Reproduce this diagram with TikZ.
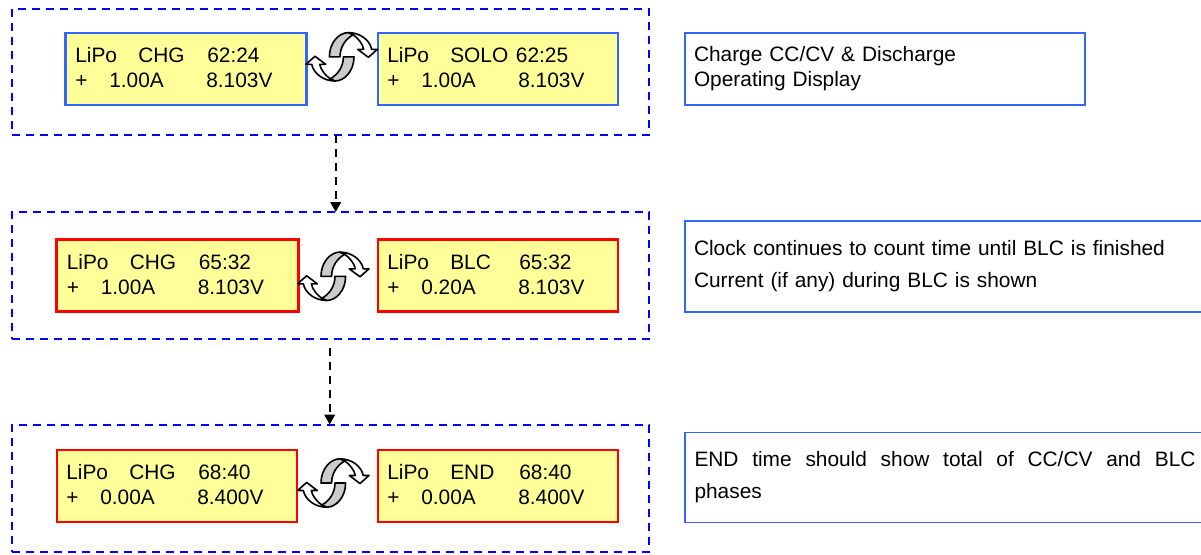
\documentclass[tikz,border=0pt]{standalone}
\usepackage{fontspec}
\setmainfont{Liberation Sans}
\usetikzlibrary{arrows.meta}

\definecolor{lcdyellow}{RGB}{255,255,153}
\definecolor{lcdblue}{RGB}{51,102,255}
\definecolor{framblue}{RGB}{0,0,255}

\newcommand{\lcdtext}[7][51.75pt]{\makebox[47.25pt][l]{#2}\makebox[#1][l]{#3}#4\\\makebox[25.5pt][l]{#5}\makebox[72.75pt][l]{#6}#7\rule[-2pt]{0pt}{0pt}}

\tikzset{
  framebox/.style={draw=framblue,line width=1.5pt,dash pattern={on 6pt off 4.5pt},inner sep=0pt,outer sep=0pt,anchor=north west,minimum width=477.75pt},
  lcdbox/.style={line width=1.6pt,fill=lcdyellow,inner ysep=0pt,inner xsep=7pt,outer sep=0pt,anchor=north west,minimum height=54pt,text width=166pt,align=left,font=\fontsize{15.65}{18.75}\selectfont},
  notebox/.style={draw=lcdblue,line width=1.25pt,inner ysep=0pt,inner xsep=6.75pt,outer sep=0pt,anchor=north west,font=\fontsize{15.65}{18.75}\selectfont},
  flowarrow/.style={line width=1.5pt,dash pattern={on 6pt off 4.5pt},-{Triangle[length=7.5pt,width=8pt]}},
  swaphalf/.pic={
    \draw [fill=black!20,line width=1.2pt,line join=round] (-12.3,0) .. controls (-12.3,-14) and (-3,-24.2) .. (6.7,-24.2) -- (11.5,-22) .. controls (4,-18) and (-1.7,-10) .. (-1.7,0) -- cycle ;
    \draw [fill=white,line width=1.2pt,line join=round] (6.7,-24.2) .. controls (18,-24.2) and (28,-17) .. (30,-7.5) -- (35.7,-7.5) -- (26.7,0.5) -- (16,-7.5) -- (22,-7.5) .. controls (21,-13) and (16,-19) .. (11.5,-22) -- cycle ;
  },
  swaparrows/.pic={
    \pic [yscale=-1] {swaphalf};
    \pic [rotate=180,yscale=-1] {swaphalf};
  }
}

\begin{document}
\begin{tikzpicture}[x=0.75pt,y=0.75pt,yscale=-1,xscale=1]
\useasboundingbox (0,0) rectangle (1201,554);

%Shape: Dashed frames
\node [framebox,minimum height=94.5pt] (frameA) at (12,9) {};
\node [framebox,minimum height=95.25pt] (frameB) at (12,212) {};
\node [framebox,minimum height=95.25pt] (frameC) at (12,424.5) {};

%Straight Lines
\draw [flowarrow] ([xshift=3.9pt]frameA.south) -- ([xshift=3.9pt]frameB.north);
\draw [flowarrow,shorten <=6.75pt] ([xshift=-0.6pt]frameB.south) -- ([xshift=-0.6pt]frameC.north);

%Shape: Display boxes
\node [lcdbox,draw=lcdblue,minimum width=180.75pt] (lcdChgA) at (65.5,33) {\lcdtext{LiPo}{CHG}{62:24}{+}{1.00A}{8.103V}};
\node [lcdbox,draw=lcdblue,minimum width=180pt] (lcdSolo) at (378,33) {\lcdtext[49.25pt]{LiPo}{SOLO}{62:25}{+}{1.00A}{8.103V}};
\node [lcdbox,draw=red,minimum width=181.5pt] (lcdChgB) at (56.5,239.5) {\lcdtext{LiPo}{CHG}{65:32}{+}{1.00A}{8.103V}};
\node [lcdbox,draw=red,minimum width=180pt] (lcdBlc) at (378,239.5) {\lcdtext{LiPo}{BLC}{65:32}{+}{0.20A}{8.103V}};
\node [lcdbox,draw=red,minimum width=180pt] (lcdChgC) at (57,450) {\lcdtext{LiPo}{CHG}{68:40}{+}{0.00A}{8.400V}};
\node [lcdbox,draw=red,minimum width=180pt] (lcdEnd) at (378,450) {\lcdtext{LiPo}{END}{68:40}{+}{0.00A}{8.400V}};

%Shape: Swap arrows
\pic at (341.7,56.8) {swaparrows};
\pic at (333.3,276.3) {swaparrows};
\pic at (333.3,483) {swaparrows};

% Text Node
\node [notebox,minimum width=300pt,minimum height=54pt,text width=286.5pt,align=left] (noteA) at (685,33) {Charge CC/CV \& Discharge\\Operating Display};
% Text Node
\node [notebox,minimum width=390pt,minimum height=68.25pt,text width=376.5pt,align=left,font=\fontsize{15.65}{24}\selectfont] (noteB) at (685,221) {Clock continues to count time until BLC is finished\\Current (if any) during BLC is shown};
% Text Node
\node [notebox,minimum width=390pt,minimum height=67.5pt,text width=375.75pt,align=justify,font=\fontsize{15.65}{24}\selectfont] (noteC) at (685,432.5) {END time should show total of CC/CV and BLC\linebreak phases};

\end{tikzpicture}
\end{document}
